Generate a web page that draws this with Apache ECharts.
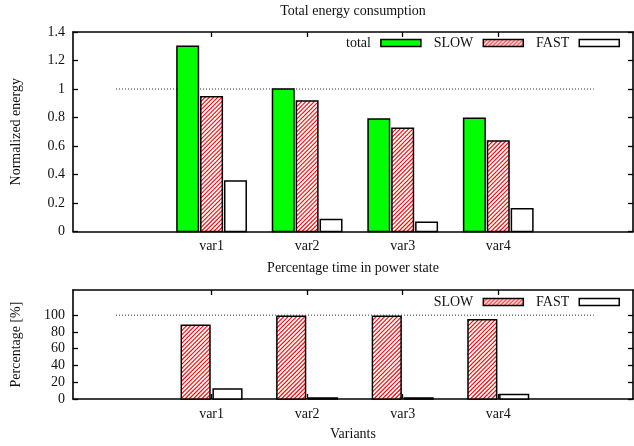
<!DOCTYPE html>
<html><head><meta charset="utf-8">
<script src="https://cdn.jsdelivr.net/npm/echarts@6/dist/echarts.min.js"></script>
<style>html,body{margin:0;padding:0;background:#fff}#c{width:634px;height:446px}</style>
</head><body><div id="c"></div>
<script>
const categories = ['var1', 'var2', 'var3', 'var4'];
const energyTotal = [1.30, 1.00, 0.79, 0.795];
const energySlow = [0.945, 0.915, 0.725, 0.635];
const energyFast = [0.355, 0.085, 0.065, 0.16];
const pctSlow = [88, 98.8, 98.8, 94.5];
const pctFast = [12, 1.2, 1.2, 5.5];
const energyTicks = [0, 0.2, 0.4, 0.6, 0.8, 1, 1.2, 1.4];
const pctTicks = [0, 20, 40, 60, 80, 100];
const catTicks = [0, 1, 2, 3];
const refX = [-1, 4];
const energyRef = 1;
const pctRef = 100;

const FONT = '"Liberation Serif", "DejaVu Serif", serif';
const TXT = '#111';
const RED = '#ff0000';
const HATCH_STEP = 4.2;

const hatch = document.createElement('canvas');
hatch.width = 4; hatch.height = 4;
const g = hatch.getContext('2d');
g.fillStyle = '#fff'; g.fillRect(0, 0, 4, 4);
g.strokeStyle = RED; g.lineWidth = 1.1;
g.beginPath();
g.moveTo(-1, 5); g.lineTo(5, -1);
g.moveTo(-1, 1); g.lineTo(1, -1);
g.moveTo(3, 5); g.lineTo(5, 3);
g.stroke();
const hatchFill = { image: hatch, repeat: 'repeat' };

function hatchLines(x0, y0, x1, y1) {
  const out = [];
  const cStart = Math.ceil((x0 + y0) / HATCH_STEP) * HATCH_STEP;
  for (let c = cStart; c < x1 + y1; c += HATCH_STEP) {
    const ax = Math.max(x0, c - y1), bx = Math.min(x1, c - y0);
    if (bx - ax < 0.3) continue;
    out.push({
      type: 'line', silent: true,
      shape: { x1: ax, y1: c - ax, x2: bx, y2: c - bx },
      style: { stroke: RED, lineWidth: 1.1 }
    });
  }
  return out;
}

function barSeries(name, values, gi, offset, width, color, hatched) {
  return {
    type: 'custom', name: name, xAxisIndex: gi * 2, yAxisIndex: gi * 2, z: 3,
    itemStyle: { color: hatched ? hatchFill : color, borderColor: '#000', borderWidth: 1.5 },
    data: values.map((v, i) => [i, v]),
    encode: { x: 0, y: 1 },
    renderItem: function (params, api) {
      const x = api.value(0) + offset, v = api.value(1);
      const p0 = api.coord([x - width / 2, v]);
      const p1 = api.coord([x + width / 2, 0]);
      const shape = { x: p0[0], y: p0[1], width: p1[0] - p0[0], height: p1[1] - p0[1] };
      const children = [{ type: 'rect', shape: shape, style: { fill: hatched ? '#fff' : color } }];
      if (hatched) children.push.apply(children, hatchLines(p0[0], p0[1], p1[0], p1[1]));
      children.push({ type: 'rect', shape: shape, style: { fill: null, stroke: '#000', lineWidth: 1.5 } });
      return { type: 'group', children: children };
    }
  };
}
function refSeries(gi, val) {
  return {
    type: 'line', xAxisIndex: gi * 2, yAxisIndex: gi * 2, silent: true, symbol: 'none', z: 2,
    data: refX.map(x => [x, val]),
    lineStyle: { color: '#333', width: 1, type: [1, 2] }
  };
}
function xAxes(gi) {
  const base = {
    type: 'value', gridIndex: gi, min: -1.45, max: 4.41,
    splitLine: { show: false },
    axisLine: { show: true, onZero: false, lineStyle: { color: '#000', width: 1.6 } },
    axisTick: { show: true, inside: true, length: 5, customValues: catTicks, lineStyle: { color: '#000', width: 1.3 } }
  };
  return [
    Object.assign({}, base, {
      position: 'bottom',
      axisLabel: { show: true, customValues: catTicks, formatter: v => categories[Math.round(v)], margin: 8, fontFamily: FONT, fontSize: 14, color: TXT },
      name: gi === 1 ? 'Variants' : '', nameLocation: 'middle', nameGap: 28,
      nameTextStyle: { fontFamily: FONT, fontSize: 14, color: TXT }
    }),
    Object.assign({}, base, { position: 'top', axisLabel: { show: false } })
  ];
}
function yAxes(gi, max, ticks, name) {
  const base = {
    type: 'value', gridIndex: gi, min: 0, max: max,
    splitLine: { show: false },
    axisLine: { show: true, onZero: false, lineStyle: { color: '#000', width: 1.6 } },
    axisTick: { show: true, inside: true, length: 5, customValues: ticks, lineStyle: { color: '#000', width: 1.3 } }
  };
  return [
    Object.assign({}, base, {
      position: 'left',
      axisLabel: { show: true, customValues: ticks, margin: 8, fontFamily: FONT, fontSize: 14, color: TXT },
      name: name, nameLocation: 'middle', nameGap: 50,
      nameTextStyle: { fontFamily: FONT, fontSize: 14, color: TXT }
    }),
    Object.assign({}, base, { position: 'right', axisLabel: { show: false } })
  ];
}
const legendBase = {
  right: 14, align: 'right', orient: 'horizontal', icon: 'rect',
  itemWidth: 40, itemHeight: 7, itemGap: 12, padding: 0,
  textStyle: { fontFamily: FONT, fontSize: 14, color: TXT, padding: [0, 5, 0, 0] },
  itemStyle: { borderColor: '#000', borderWidth: 1.5 }
};

const chart = echarts.init(document.getElementById('c'), null, { renderer: 'canvas' });
chart.setOption({
  animation: false,
  backgroundColor: '#fff',
  title: [
    { text: 'Total energy consumption', left: 353, textAlign: 'center', top: 4, padding: 0,
      textStyle: { fontFamily: FONT, fontSize: 14, fontWeight: 'normal', color: TXT } },
    { text: 'Percentage time in power state', left: 353, textAlign: 'center', top: 261, padding: 0,
      textStyle: { fontFamily: FONT, fontSize: 14, fontWeight: 'normal', color: TXT } }
  ],
  legend: [
    Object.assign({}, legendBase, { data: ['total', 'SLOW', 'FAST'], top: 36 }),
    Object.assign({}, legendBase, { data: ['SLOW', 'FAST'], top: 295 })
  ],
  grid: [
    { left: 73, right: 1, top: 32, height: 199.5 },
    { left: 73, right: 1, top: 290, height: 109 }
  ],
  xAxis: xAxes(0).concat(xAxes(1)),
  yAxis: yAxes(0, 1.4, energyTicks, 'Normalized energy').concat(yAxes(1, 130, pctTicks, 'Percentage [%]')),
  series: [
    refSeries(0, energyRef),
    barSeries('total', energyTotal, 0, -0.25, 0.225, '#00ff00', false),
    barSeries('SLOW', energySlow, 0, 0, 0.225, null, true),
    barSeries('FAST', energyFast, 0, 0.25, 0.225, '#ffffff', false),
    refSeries(1, pctRef),
    barSeries('SLOW', pctSlow, 1, -1 / 6, 0.3, null, true),
    barSeries('FAST', pctFast, 1, 1 / 6, 0.3, '#ffffff', false)
  ]
});
</script></body></html>
